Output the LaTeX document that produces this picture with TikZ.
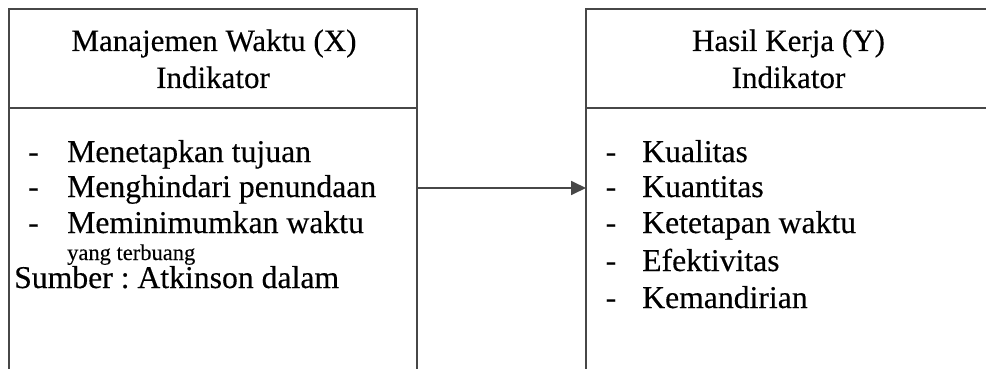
\documentclass[tikz,border=0pt]{standalone}
\usepackage{fontspec}
\setmainfont{Liberation Serif}[FakeBold=0.3]
\usetikzlibrary{arrows.meta}
\frenchspacing
\begin{document}
\begin{tikzpicture}[x=1pt,y=-1pt,
  frame/.style={draw=black!72,line width=1.8pt},
  ttl/.style={anchor=base,inner sep=0pt,font=\fontsize{31}{37}\selectfont},
  body/.style={anchor=base west,inner sep=0pt,font=\fontsize{31.7}{38}\selectfont},
  small/.style={anchor=base west,inner sep=0pt,font=\fontsize{22.5}{27}\selectfont},
  dsh/.style={anchor=base,inner sep=0pt,font=\fontsize{31.7}{38}\selectfont},
  conn/.style={draw=black!72,line width=1.8pt,-{Triangle[length=15pt,width=14pt]}}]
\useasboundingbox (0,0) rectangle (986,369);
% left box (open at bottom)
\draw[frame] (9,372) -- (9,9) -- (417,9) -- (417,372);
\draw[frame] (9,108) -- (417,108);
% right box (open at right and bottom)
\draw[frame] (586,372) -- (586,9) -- (992,9);
\draw[frame] (586,108) -- (992,108);
% titles
\node[ttl] (lt1) at (214,51) {Manajemen Waktu (X)};
\node[ttl] (lt2) at (213,88) {Indikator};
\node[ttl] (rt1) at (788.5,51) {Hasil Kerja (Y)};
\node[ttl] (rt2) at (788.5,88) {Indikator};
% left items
\node[dsh] (ld1) at (33.5,162) {-};
\node[body] (l1) at (67,162) {Menetapkan tujuan};
\node[dsh] (ld2) at (33.5,197) {-};
\node[body] (l2) at (67,197) {Menghindari penundaan};
\node[dsh] (ld3) at (33.5,233) {-};
\node[body] (l3) at (67,233) {Meminimumkan waktu};
\node[small] (l4) at (67,260) {yang terbuang};
\node[body] (l5) at (14,288) {Sumber : Atkinson dalam};
% right items
\node[dsh] (rd1) at (611,162) {-};
\node[body] (r1) at (642,162) {Kualitas};
\node[dsh] (rd2) at (611,197) {-};
\node[body] (r2) at (642,197) {Kuantitas};
\node[dsh] (rd3) at (611,233) {-};
\node[body] (r3) at (642,233) {Ketetapan waktu};
\node[dsh] (rd4) at (611,271) {-};
\node[body] (r4) at (642,271) {Efektivitas};
\node[dsh] (rd5) at (611,308) {-};
\node[body] (r5) at (642,308) {Kemandirian};
% connector
\coordinate (a) at (417,188);
\coordinate (b) at (586,188);
\draw[conn] (a) -- (b);
\end{tikzpicture}
\end{document}
